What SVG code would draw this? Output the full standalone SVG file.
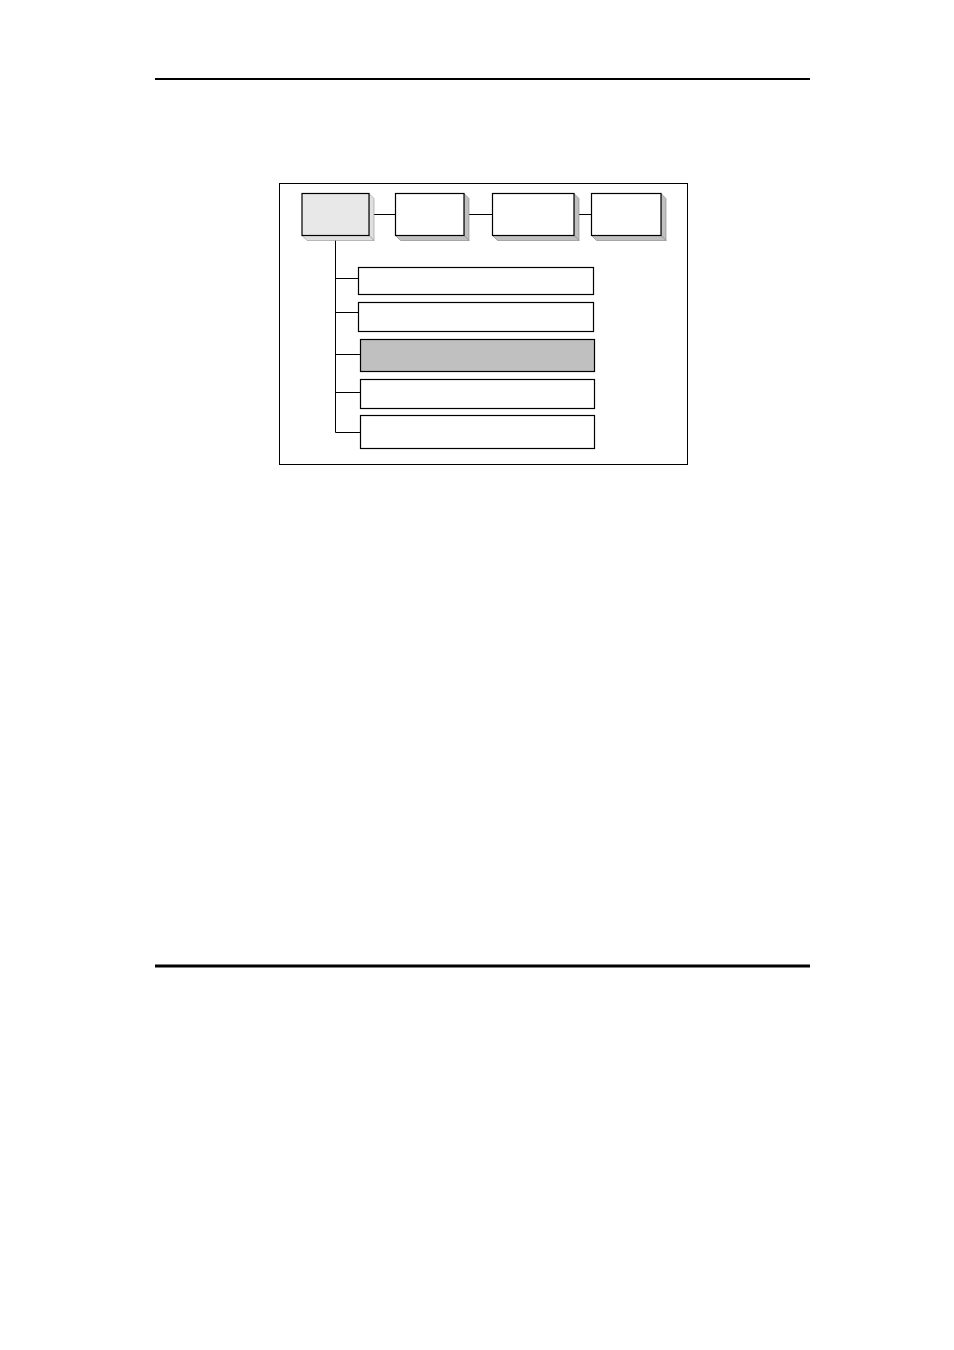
<svg xmlns="http://www.w3.org/2000/svg" width="954" height="1350" viewBox="0 0 954 1350">
<style>
.rule{stroke:#000;fill:none}
.frame{fill:#fff;stroke:#000;stroke-width:1}
.front{stroke:#000;stroke-width:1.2}
.side{fill:#c0c0c0;stroke:#808080;stroke-width:0.6}
.side1{fill:#e0e0e0;stroke:#909090;stroke-width:0.6}
.item{fill:#fff;stroke:#000;stroke-width:1.2}
.conn{stroke:#000;stroke-width:1;fill:none}
</style>
<rect width="954" height="1350" fill="#fff"/>
<line class="rule" x1="155" y1="79" x2="810" y2="79" stroke-width="2"/>
<line class="rule" x1="155" y1="966" x2="810" y2="966" stroke-width="3"/>
<rect class="frame" x="279.5" y="183.5" width="408" height="281"/>
<g id="connectors">
<line class="conn" x1="369" y1="214.5" x2="395" y2="214.5"/>
<line class="conn" x1="464" y1="214.5" x2="492" y2="214.5"/>
<line class="conn" x1="574" y1="214.5" x2="591" y2="214.5"/>
<polyline class="conn" points="335.5,236 335.5,432.5 360,432.5"/>
<line class="conn" x1="335.5" y1="278.5" x2="358" y2="278.5"/>
<line class="conn" x1="335.5" y1="312.5" x2="358" y2="312.5"/>
<line class="conn" x1="335.5" y1="354.5" x2="360" y2="354.5"/>
<line class="conn" x1="335.5" y1="392.5" x2="360" y2="392.5"/>
</g>
<g id="node-1">
<polygon class="side1" points="369,193.5 374,198.5 374,240.5 369,235.5"/>
<polygon class="side1" points="302,235.5 369,235.5 374,240.5 307,240.5"/>
<rect class="front" x="302" y="193.5" width="67" height="42" fill="#e8e8e8"/>
</g>
<g id="node-2">
<polygon class="side" points="464,193.5 469,198.5 469,240.5 464,235.5"/>
<polygon class="side" points="395.5,235.5 464,235.5 469,240.5 400.5,240.5"/>
<rect class="front" x="395.5" y="193.5" width="68.5" height="42" fill="#fff"/>
</g>
<g id="node-3">
<polygon class="side" points="574,193.5 579,198.5 579,240.5 574,235.5"/>
<polygon class="side" points="492.5,235.5 574,235.5 579,240.5 497.5,240.5"/>
<rect class="front" x="492.5" y="193.5" width="81.5" height="42" fill="#fff"/>
</g>
<g id="node-4">
<polygon class="side" points="661,193.5 666,198.5 666,240.5 661,235.5"/>
<polygon class="side" points="591.5,235.5 661,235.5 666,240.5 596.5,240.5"/>
<rect class="front" x="591.5" y="193.5" width="69.5" height="42" fill="#fff"/>
</g>
<g id="item-1"><rect class="item" x="358.5" y="267.5" width="235" height="27"/></g>
<g id="item-2"><rect class="item" x="358.5" y="302.5" width="235" height="29"/></g>
<g id="item-3"><rect class="item" x="360.5" y="339.5" width="234" height="32" fill="#c0c0c0" style="fill:#c0c0c0"/></g>
<g id="item-4"><rect class="item" x="360.5" y="379.5" width="234" height="29"/></g>
<g id="item-5"><rect class="item" x="360.5" y="415.5" width="234" height="33"/></g>
</svg>
